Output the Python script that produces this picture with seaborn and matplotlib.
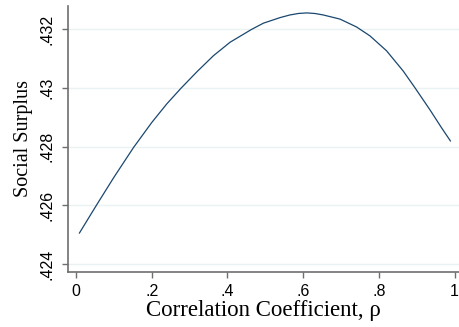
import matplotlib
matplotlib.use("Agg")
import matplotlib.pyplot as plt
import seaborn as sns
import pandas as pd

# Values
rho = [0.009, 0.054, 0.100, 0.152, 0.200, 0.240, 0.278, 0.320, 0.363, 0.407,
       0.464, 0.495, 0.539, 0.565, 0.587, 0.609, 0.631, 0.653, 0.697, 0.741,
       0.776, 0.820, 0.864, 0.895, 0.935, 0.966, 0.989]
surplus = [0.42505, 0.42600, 0.42695, 0.42797, 0.42882, 0.42946, 0.43000, 0.43056,
           0.43110, 0.43156, 0.43200, 0.43221, 0.43240, 0.43249, 0.43254, 0.43256,
           0.43254, 0.43249, 0.43235, 0.43208, 0.43178, 0.43127, 0.43058, 0.43001,
           0.42925, 0.42863, 0.42819]
xticks = [0, 0.2, 0.4, 0.6, 0.8, 1.0]
xticklabels = ["0", ".2", ".4", ".6", ".8", "1"]
yticks = [0.424, 0.426, 0.428, 0.430, 0.432]
yticklabels = [".424", ".426", ".428", ".43", ".432"]

df = pd.DataFrame({"rho": rho, "surplus": surplus})

sns.set_style("white")
plt.rcParams["font.family"] = ["Liberation Sans", "DejaVu Sans"]

fig = plt.figure(figsize=(4.59, 3.27), dpi=100)
ax = fig.add_axes([0.148, 0.1682, 0.852, 0.8135])

sns.lineplot(data=df, x="rho", y="surplus", ax=ax, color="#1a476f", linewidth=0.9)

ax.set_xlim(-0.0211, 1.0114)
ax.set_ylim(0.423727, 0.432796)
ax.set_xticks(xticks)
ax.set_xticklabels(xticklabels, fontsize=11.5, color="black")
ax.set_yticks(yticks)
ax.set_yticklabels(yticklabels, fontsize=11.5, rotation=90, va="center", color="black")

ax.grid(axis="y", color="#eaf2f3", linewidth=1.0)
ax.grid(axis="x", visible=False)
for s in ["top", "right"]:
    ax.spines[s].set_visible(False)
for s in ["left", "bottom"]:
    ax.spines[s].set_color("#6e6e6e")
    ax.spines[s].set_linewidth(1.2)
ax.tick_params(axis="both", which="major", length=4, width=1, color="#6e6e6e",
               direction="out", bottom=True, left=True, pad=5)
ax.tick_params(axis="y", pad=6)

ax.set_xlabel("Correlation Coefficient, ρ", fontsize=16.5, color="black",
              family=["Liberation Serif", "DejaVu Serif"], labelpad=0.5)
ax.set_ylabel("Social Surplus", fontsize=14.5, color="black",
              family=["Liberation Serif", "DejaVu Serif"], labelpad=4)

fig.savefig("out.png", dpi=100)
